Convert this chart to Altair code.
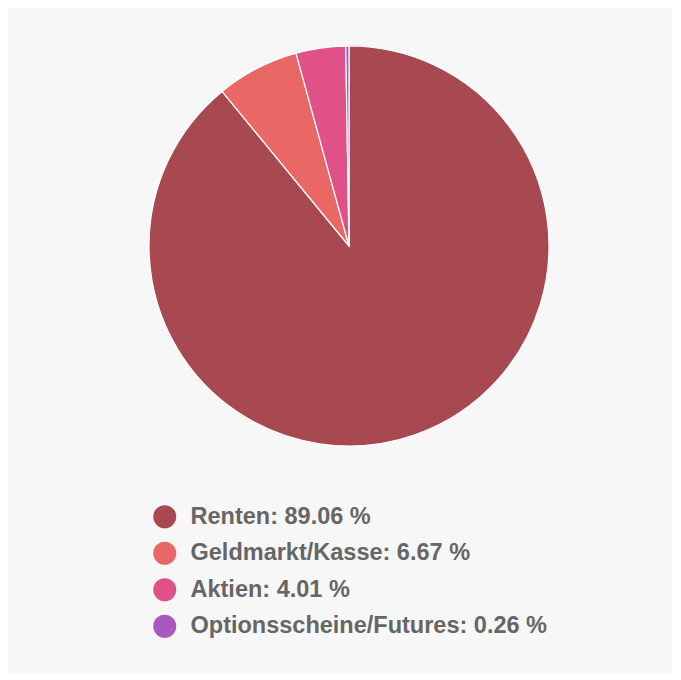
import altair as alt
import pandas as pd

categories = ["Renten", "Geldmarkt/Kasse", "Aktien", "Optionsscheine/Futures"]
values = [89.06, 6.67, 4.01, 0.26]
colors = ["#a84850", "#e96865", "#e05287", "#a858be"]

labels = [f"{c}: {v:.2f} %" for c, v in zip(categories, values)]
df = pd.DataFrame({"idx": range(len(categories)), "cat": categories, "value": values, "label": labels})

ring = alt.Chart(pd.DataFrame({"v": [1]})).mark_arc(
    outerRadius=201, fill="#cfcfcf"
).encode(theta=alt.Theta("v:Q"), x=alt.value(341), y=alt.value(238))

pie = alt.Chart(df).mark_arc(outerRadius=200, stroke="white", strokeWidth=1.2).encode(
    theta=alt.Theta("value:Q", stack=True),
    order=alt.Order("idx:Q"),
    x=alt.value(341),
    y=alt.value(238),
    color=alt.Color(
        "label:N",
        scale=alt.Scale(domain=labels, range=colors),
        legend=alt.Legend(
            title=None,
            orient="none",
            legendX=145,
            legendY=497,
            symbolType="circle",
            symbolSize=529,
            symbolStrokeWidth=0,
            labelFont="Liberation Sans",
            labelFontWeight="bold",
            labelFontSize=23.5,
            labelColor="#666666",
            labelLimit=600,
            rowPadding=11.5,
            labelOffset=14,
            padding=0,
        ),
    ),
)

chart = alt.layer(ring, pie).properties(
    width=664, height=666, background="#f7f7f7", padding=0,
    autosize=alt.AutoSizeParams(type="none"),
).configure_view(stroke=None)

chart.save("out.html", embed_options={"renderer": "svg", "actions": False})
